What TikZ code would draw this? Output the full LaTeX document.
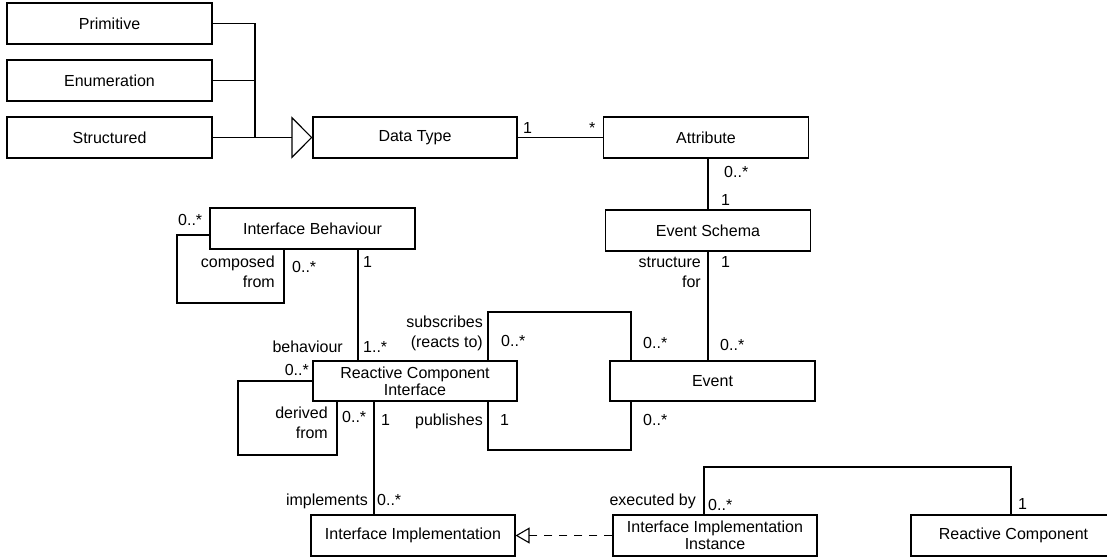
\documentclass[tikz,border=0pt]{standalone}
\usepackage{fontspec}
\setmainfont{Liberation Sans}
\usetikzlibrary{arrows.meta}
\begin{document}
\begin{tikzpicture}[x=1pt,y=-1pt,
  classbox/.style={draw, line width=1.1pt, fill=white, minimum width=205pt,
    minimum height=41pt, inner sep=0pt, align=center,
    font=\fontsize{16}{17}\selectfont},
  lbl/.style={inner sep=0pt, font=\fontsize{16}{20}\selectfont},
  assoc/.style={line width=1.1pt},
  generalizes/.style={assoc, -{Triangle[open, length=21pt, width=42pt]}},
  realizes/.style={assoc, dash pattern=on 8pt off 7pt,
    -{Triangle[open, length=14pt, width=16pt]}},
]
\useasboundingbox (0,0) rectangle (1107,558);
\clip (0,0) rectangle (1107,558);

% classes
\node[classbox] (prim)   at (109.5,23.5)  {Primitive};
\node[classbox] (enum)   at (109.5,80.5)  {Enumeration};
\node[classbox] (struct) at (109.5,137.5) {Structured};
\node[classbox, minimum width=204pt] (dt) at (415,137.5) {Data Type};
\node[classbox] (attr)   at (706,137.5)   {Attribute};
\node[classbox] (ib)     at (312.5,228.5) {Interface Behaviour};
\node[classbox] (es)     at (708,230.5)   {Event Schema};
\node[classbox, minimum width=204pt, minimum height=40pt] (rci) at (415,381)
  {Reactive Component\\Interface};
\node[classbox, minimum height=40pt] (event) at (712.5,381) {Event};
\node[classbox, minimum width=204pt] (ii)  at (413,535.5) {Interface Implementation};
\node[classbox, minimum width=204pt] (iii) at (715,535.5)
  {Interface Implementation\\Instance};
\node[classbox] (rc) at (1013.5,535.5) {Reactive Component};

% generalization of the data types
\coordinate (jn) at (255,137.5);
\draw[assoc] (prim.east) -| (jn);
\draw[assoc] (enum.east) -- (enum.east -| jn);
\draw[generalizes] (struct.east) -- (dt.west);

% associations
\draw[assoc] (dt.east) -- (attr.west);
\draw[assoc] (es.north) -- (es.north |- attr.south);
\draw[assoc] (es.south) -- (es.south |- event.north);

\coordinate (ibloop) at (177,303);
\draw[assoc] ([yshift=-6.5pt]ib.west) -| (ibloop) -| ([xshift=-28.5pt]ib.south);

\coordinate (ibr) at ([xshift=45.5pt]ib.south);
\draw[assoc] (ibr) -- (ibr |- rci.north);

\coordinate (rciloop) at (238,455);
\draw[assoc] (rci.west) -| (rciloop) -| ([xshift=-78pt]rci.south);

\coordinate (subtop) at (560,312);
\draw[assoc] ([xshift=73pt]rci.north) |- (subtop) -| ([xshift=-81.5pt]event.north);
\coordinate (pubbot) at (560,450);
\draw[assoc] ([xshift=73pt]rci.south) |- (pubbot) -| ([xshift=-81.5pt]event.south);

\coordinate (rciii) at ([xshift=-41pt]rci.south);
\draw[assoc] (rciii) -- (rciii |- ii.north);

\coordinate (exectop) at (860,467);
\draw[assoc] ([xshift=-11pt]iii.north) |- (exectop) -| ([xshift=-2.5pt]rc.north);

\draw[realizes] (iii.west) -- (ii.east);

% role names and multiplicities
\node[lbl, anchor=base west] (m1) at (523,133) {1};
\node[lbl, anchor=base west] (m2) at (589,133) {*};
\node[lbl, anchor=base west] (m3) at (724,177.5) {0..*};
\node[lbl, anchor=base west] (m4) at (721,205.5) {1};
\node[lbl, anchor=east, align=right] (r1) at (701,272) {structure\\for};
\node[lbl, anchor=base west] (m5) at (721,267.5) {1};
\node[lbl, anchor=base west] (m6) at (720,350) {0..*};
\node[lbl, anchor=base west] (m7) at (643,348) {0..*};
\node[lbl, anchor=base west] (m8) at (501,346) {0..*};
\node[lbl, anchor=east, align=right] (r2) at (483,333) {subscribes\\(reacts to)};
\node[lbl, anchor=base east] (r3) at (483,425.5) {publishes};
\node[lbl, anchor=base west] (m9) at (500,425.5) {1};
\node[lbl, anchor=base west] (m10) at (643,425.5) {0..*};
\node[lbl, anchor=base east] (m11) at (309,375.5) {0..*};
\node[lbl, anchor=east, align=right] (r4) at (328,423) {derived\\from};
\node[lbl, anchor=base west] (m12) at (342,422.5) {0..*};
\node[lbl, anchor=base west] (m13) at (381,425.5) {1};
\node[lbl, anchor=base east] (r5) at (343,352.5) {behaviour};
\node[lbl, anchor=base west] (m14) at (363,352.5) {1..*};
\node[lbl, anchor=base west] (m15) at (363,267.5) {1};
\node[lbl, anchor=base west] (m16) at (178,225) {0..*};
\node[lbl, anchor=east, align=right] (r6) at (275,272) {composed\\from};
\node[lbl, anchor=base west] (m17) at (292,272.5) {0..*};
\node[lbl, anchor=base east] (r7) at (368,505.5) {implements};
\node[lbl, anchor=base west] (m18) at (377,505.5) {0..*};
\node[lbl, anchor=base east] (r8) at (696,505.5) {executed by};
\node[lbl, anchor=base west] (m19) at (708,510) {0..*};
\node[lbl, anchor=base west] (m20) at (1018,509) {1};
\end{tikzpicture}
\end{document}
